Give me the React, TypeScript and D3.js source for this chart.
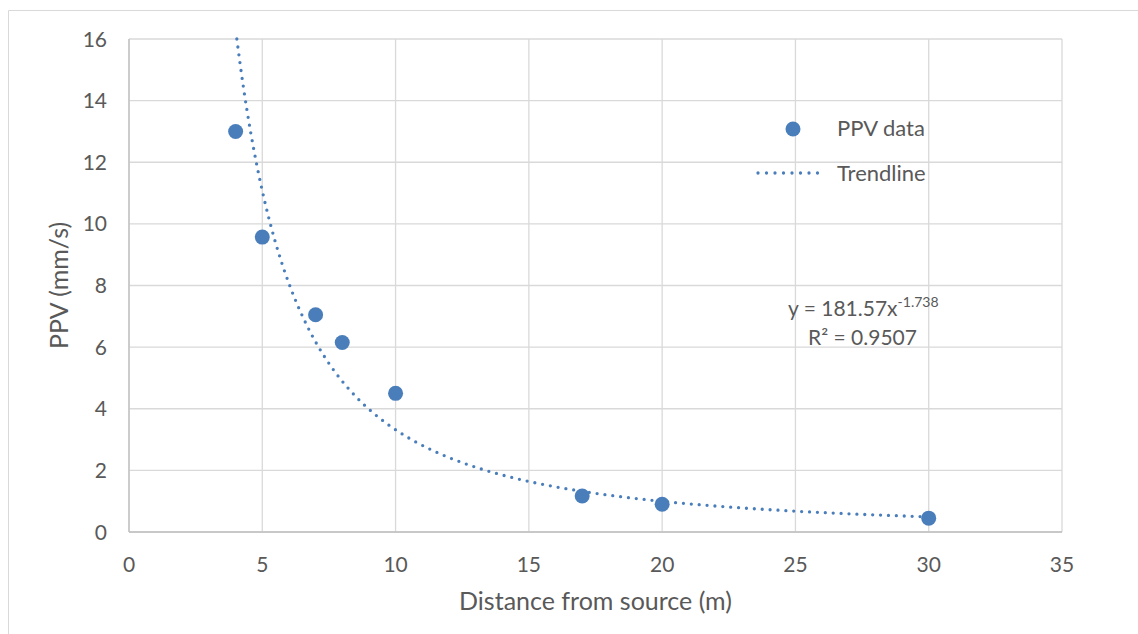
import React from 'react'
import * as d3 from 'd3'

const distances = [4, 5, 7, 8, 10, 17, 20, 30]
const ppvValues = [13.0, 9.57, 7.05, 6.15, 4.5, 1.17, 0.9, 0.45]

// power trendline as shown in the label: y = 181.57 x^-1.738
const trendCoef = 181.57
const trendExp = -1.738
const trendR2 = 0.9507

const xTicks = [0, 5, 10, 15, 20, 25, 30, 35]
const yTicks = [0, 2, 4, 6, 8, 10, 12, 14, 16]

const W = 1138
const H = 634
const margin = {left: 129, top: 39, right: 76, bottom: 102}
const blue = '#4a7ebb'
const grey = '#595959'
const font = 'Lato, "Open Sans", sans-serif'

export default function App () {
  const x = d3.scaleLinear().domain([0, 35]).range([margin.left, W - margin.right])
  const y = d3.scaleLinear().domain([0, 16]).range([H - margin.bottom, margin.top])

  // sample the trendline over the data range, clipped at the top of the axis
  const xMin = d3.min(distances) as number
  const xMax = d3.max(distances) as number
  const xStart = Math.max(xMin, Math.pow(16 / trendCoef, 1 / trendExp))
  const trend = d3.range(0, 201).map(i => {
    const xv = xStart + (xMax - xStart) * i / 200
    return [xv, trendCoef * Math.pow(xv, trendExp)] as [number, number]
  })
  const line = d3.line<[number, number]>().x(d => x(d[0])).y(d => y(d[1])).curve(d3.curveMonotoneX)

  const plotBottom = y(0)
  const plotRight = x(35)

  return (
    <svg width={W} height={H} style={{position: 'absolute', left: 0, top: 0, fontFamily: font}}>
      <rect x={0} y={0} width={W} height={H} fill='#fff' />
      <path d={`M8.5,${H} V10.5 H${W}`} fill='none' stroke='#d9d9d9' strokeWidth={1} />
      {xTicks.map(t => (
        <line key={'gx' + t} x1={x(t)} x2={x(t)} y1={y(16)} y2={plotBottom} stroke='#d9d9d9' strokeWidth={1.3} />
      ))}
      {yTicks.map(t => (
        <line key={'gy' + t} x1={x(0)} x2={plotRight} y1={y(t)} y2={y(t)} stroke='#d9d9d9' strokeWidth={1.3} />
      ))}
      <line x1={x(0)} x2={x(0)} y1={y(16)} y2={plotBottom} stroke='#bfbfbf' strokeWidth={1.3} />
      <line x1={x(0)} x2={plotRight} y1={plotBottom} y2={plotBottom} stroke='#bfbfbf' strokeWidth={1.3} />
      {yTicks.map(t => (
        <text key={'ty' + t} x={107} y={y(t)} dy='0.36em' textAnchor='end' fontSize={21} fill={grey}>{t}</text>
      ))}
      {xTicks.map(t => (
        <text key={'tx' + t} x={x(t)} y={572} textAnchor='middle' fontSize={21} fill={grey}>{t}</text>
      ))}
      <text transform={`translate(68,${(y(16) + plotBottom) / 2}) rotate(-90)`} textAnchor='middle' fontSize={25} fill={grey}>PPV (mm/s)</text>
      <text x={(x(0) + plotRight) / 2} y={610} textAnchor='middle' fontSize={25} fill={grey}>Distance from source (m)</text>

      <path d={line(trend) || ''} fill='none' stroke={blue} strokeWidth={3.3} strokeDasharray='0 7.9' strokeLinecap='round' />
      {distances.map((d, i) => (
        <circle key={'p' + i} cx={x(d)} cy={y(ppvValues[i])} r={7.5} fill={blue} />
      ))}

      <circle cx={793} cy={129} r={7.5} fill={blue} />
      <text x={837} y={136} fontSize={22} fill={grey}>PPV data</text>
      <line x1={758} x2={826} y1={173} y2={173} stroke={blue} strokeWidth={3.3} strokeDasharray='0 8.5' strokeLinecap='round' />
      <text x={837} y={181} fontSize={22} fill={grey}>Trendline</text>

      <text x={788} y={316} fontSize={21} fill={grey}>
        y = {trendCoef}x<tspan dy={-9} fontSize={14}>{trendExp}</tspan>
      </text>
      <text x={808} y={345} fontSize={21} fill={grey}>R² = {trendR2}</text>
    </svg>
  )
}
